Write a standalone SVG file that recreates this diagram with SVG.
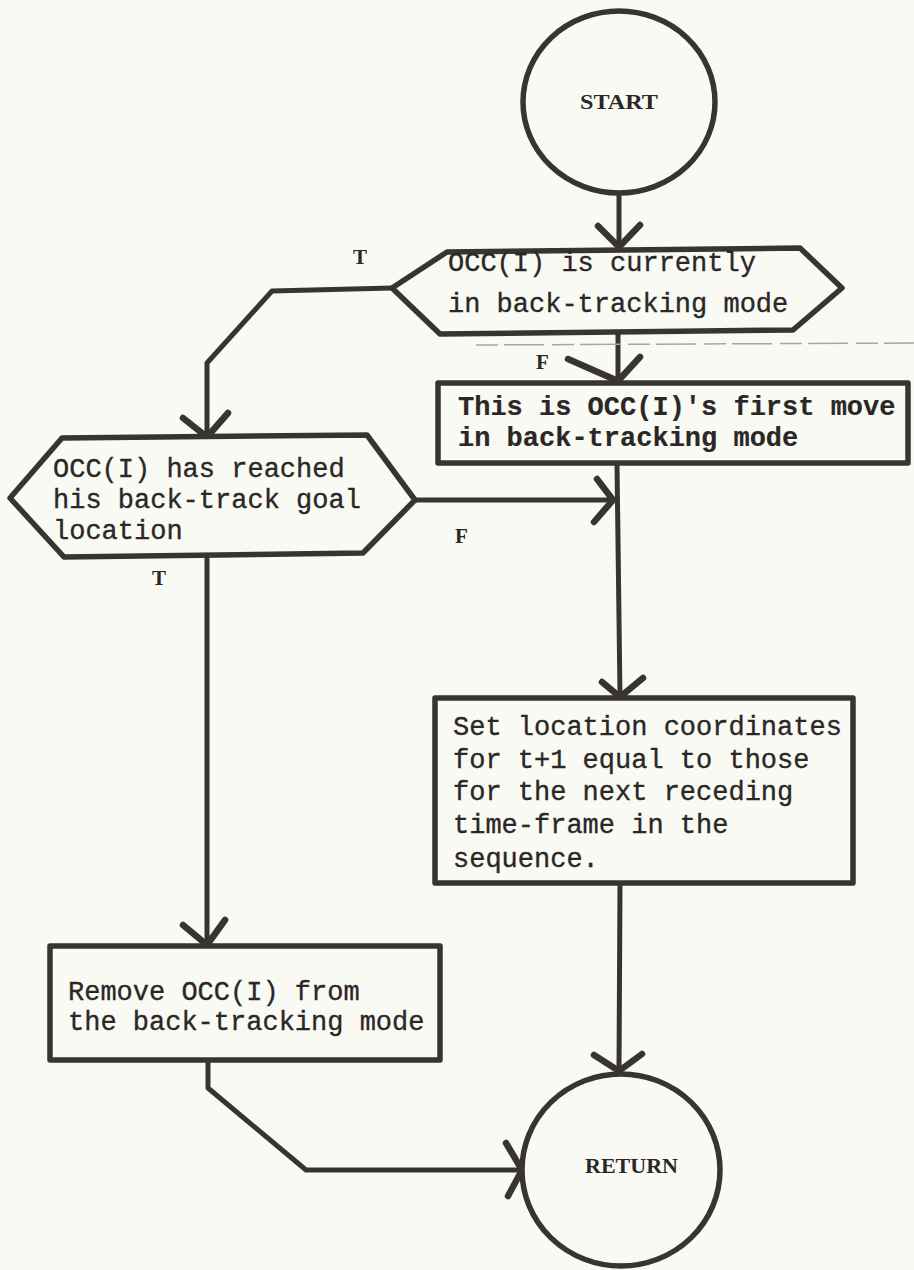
<svg xmlns="http://www.w3.org/2000/svg" width="914" height="1270" viewBox="0 0 914 1270">
  <style>
    .ln { fill: none; stroke: #393434; stroke-width: 5; stroke-linejoin: round; stroke-linecap: round; }
    .shape { fill: #fafaf5; stroke: #393434; stroke-width: 5.5; stroke-linejoin: round; }
    .arw { fill: none; stroke: #393434; stroke-width: 6.5; stroke-linecap: round; stroke-linejoin: round; }
    .mono { font-family: "Liberation Mono", "DejaVu Sans Mono", monospace; font-size: 27px; fill: #2b2727; stroke: #2b2727; stroke-width: 0.35; }
    .bold { font-weight: bold; stroke-width: 0.2; }
    .ser { font-family: "Liberation Serif", "DejaVu Serif", serif; font-size: 21px; font-weight: bold; fill: #2b2727; }
    .faint { fill: none; stroke: #a9a5a0; stroke-width: 1.5; stroke-dasharray: 22 6 40 8; }
  </style>
  <rect width="914" height="1270" fill="#fafaf5"/>

  <!-- connectors -->
  <g id="connectors">
    <!-- START to first decision -->
    <path class="ln" d="M619,193 L619,247"/>
    <polyline class="arw" points="598,226 619,247 640,225"/>
    <!-- T branch of first decision -->
    <path class="ln" d="M392,288 L272,291 L207,363 L207,436"/>
    <polyline class="arw" points="183,418 207,437 228,413"/>
    <!-- F branch of first decision -->
    <path class="ln" d="M618,332 L618,381"/>
    <polyline class="arw" points="568,359 618,381 640,357"/>
    <!-- F branch of second decision joining the main line -->
    <path class="ln" d="M415,500 L613,500"/>
    <polyline class="arw" points="597,479 613,500 594,522"/>
    <!-- first-move box down to set-location box -->
    <path class="ln" d="M617,463 L620,696"/>
    <polyline class="arw" points="602,682 620,697 643,678"/>
    <!-- T branch of second decision -->
    <path class="ln" d="M207,557 L207,944"/>
    <polyline class="arw" points="183,925 207,945 225,920"/>
    <!-- set-location box to RETURN -->
    <path class="ln" d="M620,883 L619,1071"/>
    <polyline class="arw" points="594,1055 619,1071 642,1054"/>
    <!-- remove box to RETURN -->
    <path class="ln" d="M208,1060 L208,1088 L306,1170 L520,1170"/>
    <polyline class="arw" points="506,1143 522,1170 508,1196"/>
    <!-- faint line across the page -->
    <path class="faint" d="M476,345 L914,343"/>
  </g>

  <g id="start">
    <ellipse class="shape" cx="619" cy="102" rx="96" ry="91"/>
    <text class="ser" x="580" y="109" textLength="78" lengthAdjust="spacingAndGlyphs">START</text>
  </g>

  <g id="decision-backtracking">
    <polygon class="shape" points="447,252 800,248 842,288 793,330 440,334 392,288"/>
    <text class="mono" x="448" y="271">OCC(I) is currently</text>
    <text class="mono" x="448" y="312">in back-tracking mode</text>
  </g>

  <g id="label-t1"><text class="ser" x="353" y="264">T</text></g>
  <g id="label-f1"><text class="ser" x="536" y="369">F</text></g>

  <g id="first-move">
    <rect class="shape" x="438" y="383" width="470" height="80"/>
    <text class="mono bold" x="458" y="415">This is OCC(I)'s first move</text>
    <text class="mono bold" x="458" y="446">in back-tracking mode</text>
  </g>

  <g id="decision-goal">
    <polygon class="shape" points="62,438 367,435 415,500 363,553 64,557 10,498"/>
    <text class="mono" x="53" y="477">OCC(I) has reached</text>
    <text class="mono" x="53" y="508">his back-track goal</text>
    <text class="mono" x="53" y="539">location</text>
  </g>

  <g id="label-f2"><text class="ser" x="455" y="543">F</text></g>
  <g id="label-t2"><text class="ser" x="152" y="585">T</text></g>

  <g id="set-location">
    <rect class="shape" x="435" y="698" width="418" height="185"/>
    <text class="mono" x="453" y="735">Set location coordinates</text>
    <text class="mono" x="453" y="768">for t+1 equal to those</text>
    <text class="mono" x="453" y="800">for the next receding</text>
    <text class="mono" x="453" y="833">time-frame in the</text>
    <text class="mono" x="453" y="867">sequence.</text>
  </g>

  <g id="remove">
    <rect class="shape" x="50" y="946" width="390" height="114"/>
    <text class="mono" x="68" y="1000">Remove OCC(I) from</text>
    <text class="mono" x="68" y="1030">the back-tracking mode</text>
  </g>

  <g id="return">
    <ellipse class="shape" cx="621" cy="1170" rx="99" ry="96"/>
    <text class="ser" x="585" y="1173" textLength="93" lengthAdjust="spacingAndGlyphs">RETURN</text>
  </g>
</svg>
